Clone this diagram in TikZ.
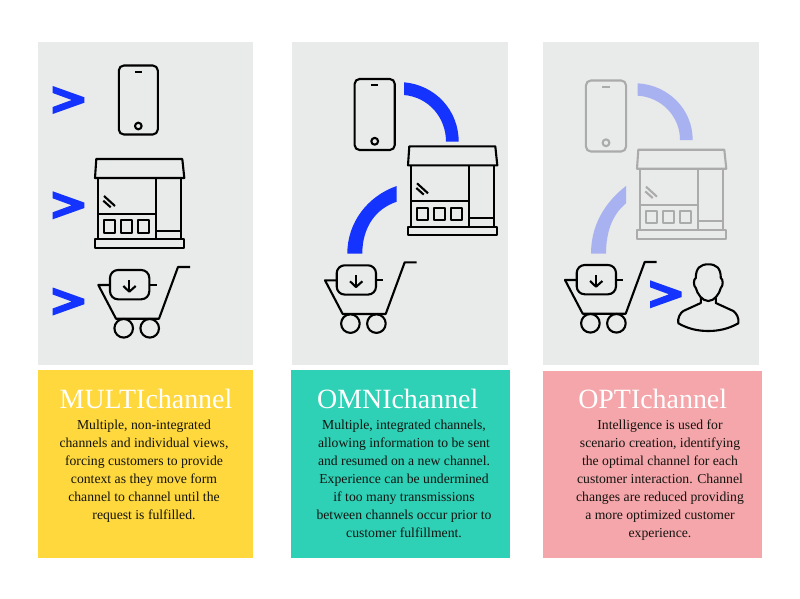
\documentclass[tikz,border=0pt]{standalone}
\usepackage{fontspec}
\setmainfont{Liberation Serif}
\usetikzlibrary{calc}

\definecolor{panelgray}{HTML}{E9EAEA}
\definecolor{multicol}{HTML}{FFD83D}
\definecolor{omnicol}{HTML}{2ED0B6}
\definecolor{opticol}{HTML}{F4A6AB}
\definecolor{bandblue}{HTML}{1433FF}
\definecolor{bandpale}{HTML}{A9B2F0}
\definecolor{iconpale}{HTML}{ABABAB}
\definecolor{inkcol}{HTML}{141410}

\tikzset{
    iconline/.style={draw, line width=2.1pt, line join=round},
    heading/.style={text=white, font=\fontsize{27.9}{30}\selectfont, inner sep=0pt, anchor=base},
    blurb/.style={text=inkcol, font=\fontsize{13.7}{18}\selectfont, align=center, inner sep=0pt, anchor=north},
    pics/phone/.style={code={
        \draw [iconline, rounded corners=5pt] (-19.5,-34.5) rectangle (19.5,34.5);
        \draw [iconline] (-3.5,-28.3) -- (3.5,-28.3);
        \draw [iconline] (0,26) circle [radius=3.3];
    }},
    pics/store/.style={code={
        \draw [iconline] (-43.4,-44) -- (42.6,-44) -- (44.6,-25) -- (-44.7,-25) -- cycle;
        \draw [iconline] (-41.3,-25) -- (-41.3,36.3);
        \draw [iconline] (41,-25) -- (41,36.3);
        \draw [iconline] (16,-25) -- (16,36.3);
        \draw [iconline] (-41.3,11) -- (16,11);
        \draw [iconline] (16,27.7) -- (41,27.7);
        \draw [iconline] (-44.7,36.3) rectangle (44.6,45);
        \foreach \x in {-35.4, -18.4, -1.4}
            {
                \draw [iconline] (\x,17.3) rectangle ($(\x,17.3) + (11,12.4)$);
            }
        \draw [iconline] (-35.7,-7) -- (-24.7,3);
        \draw [iconline] (-36.4,-2.3) -- (-29,4.3);
    }},
    pics/cart/.style={code={
        \draw [iconline] (60.7,-18) -- (48.7,-18) -- (29.7,33.7) -- (-13.3,33.7) -- (-31,0) -- (-19.3,0);
        \draw [iconline, rounded corners=8pt] (-19.3,-15) rectangle (20,14.3);
        \draw [iconline] (20,0) -- (27.4,0);
        \draw [iconline] (-5.6,43.3) circle [radius=9.3];
        \draw [iconline] (20.4,43.3) circle [radius=9.3];
        \draw [iconline] (0,-5) -- (0,6.7);
        \draw [iconline] (-6,1) -- (0,6.7) -- (6.4,1);
    }},
    pics/person/.style={code={
        \draw [iconline] (0,-31.7) .. controls (-8,-31.7) and (-12.5,-28) .. (-12.5,-18)
            .. controls (-15,-17) and (-15,-10) .. (-12.5,-8)
            .. controls (-11,-2) and (-6,5) .. (0,5)
            .. controls (6,5) and (11,-2) .. (12.5,-8)
            .. controls (15,-10) and (15,-17) .. (12.5,-18)
            .. controls (12.5,-28) and (8,-31.7) .. (0,-31.7) -- cycle;
        \draw [iconline] (-7.5,1.5) -- (-7.5,7) -- (-25,15)
            .. controls (-28,17) and (-31,22) .. (-30,27.3)
            .. controls (-20,33) and (-10,35) .. (0,35)
            .. controls (10,35) and (20,33) .. (30,27.3)
            .. controls (31,22) and (28,17) .. (25,15)
            -- (7.5,7) -- (7.5,1.5);
    }},
    pics/chevron/.style={code={
        \fill [bandblue] (0,-14) -- (31.7,-2.7) -- (31.7,2.7) -- (0,14) -- (0,7) -- (19,0) -- (0,-7) -- cycle;
    }}
}

\begin{document}
\begin{tikzpicture}[x=1pt, y=-1pt]
            \useasboundingbox (0,0) rectangle (800,599);
            \fill [white] (0,0) rectangle (800,599);

            \foreach \l/\r in {38/253.3, 292/508, 543.3/759}
                {
                    \fill [panelgray] (\l,42) rectangle (\r,365);
                }

            \fill [multicol] (38,370) rectangle (253.3,557.5);
            \fill [omnicol] (291,370) rectangle (509.7,557.5);
            \fill [opticol] (543,371) rectangle (761.7,558);

            \foreach \y in {100, 205.3, 301.5}
                {
                    \pic at (52.7,\y) {chevron};
                }
            \pic at (138.3,100) {phone};
            \pic at (139.7,203) {store};
            \pic at (129.3,285) {cart};

            \fill [bandblue] (404,82.3) .. controls (435,85) and (458.7,110) .. (458.7,141.7)
                -- (446,141.7) .. controls (446,117) and (428,97) .. (404,95) -- cycle;
            \fill [bandblue] (347.3,253.7) .. controls (347.3,222) and (368,196) .. (396.7,186)
                -- (396.7,201.7) .. controls (375,209) and (362.3,228) .. (362.3,253.7) -- cycle;
            \pic [scale=1.03] at (374.7,114.5) {phone};
            \pic at (452.7,190.3) {store};
            \pic at (356,280.3) {cart};

            \fill [bandpale] (637.7,83.3) .. controls (668,85) and (692.7,109) .. (692.7,140)
                -- (680,140) .. controls (680,116) and (661,97) .. (637.7,95.7) -- cycle;
            \fill [bandpale] (591,253.7) .. controls (591,226) and (604,203) .. (626,186)
                -- (626,203.3) .. controls (613,214) and (606,231) .. (606,253.7) -- cycle;
            \pic [scale=1.03, color=iconpale] at (606,116) {phone};
            \pic [color=iconpale] at (681.7,193.7) {store};
            \pic at (596,280) {cart};
            \pic at (650,294.3) {chevron};
            \pic at (708.3,296) {person};

            \node (multititle) [heading] at (146,408) {MULTIchannel};
            \node (omnititle) [heading] at (397.8,408) {OMNIchannel};
            \node (optititle) [heading] at (652.7,408) {OPTIchannel};

            \node (multitext) [blurb] at (144,419.5) {Multiple, non-integrated\\channels and individual views,\\forcing customers to provide\\context as they move form\\channel to channel until the\\request is fulfilled.};
            \node (omnitext) [blurb] at (404,419.5) {Multiple, integrated channels,\\allowing information to be sent\\and resumed on a new channel.\\Experience can be undermined\\if too many transmissions\\between channels occur prior to\\customer fulfillment.};
            \node (optitext) [blurb] at (660,419.5) {Intelligence is used for\\scenario creation, identifying\\the optimal channel for each\\customer interaction. Channel\\changes are reduced providing\\a more optimized customer\\experience.};

        \end{tikzpicture}
\end{document}
